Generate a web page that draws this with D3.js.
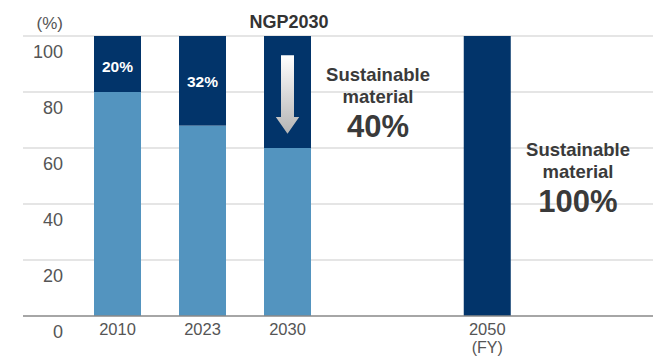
<!DOCTYPE html>
<html><head><meta charset="utf-8">
<script src="https://cdn.jsdelivr.net/npm/d3@7"></script>
<style>body{margin:0;background:#fff}svg{display:block}</style>
</head><body>
<svg id="c" width="653" height="356"></svg>
<script>
const categories = ["2010", "2023", "2030", "2050"];
const conventional = [80, 68, 60, 0];
const sustainable = [20, 32, 40, 100];
const barLabels = ["20%", "32%", "", ""];
const yTicks = [0, 20, 40, 60, 80, 100];
const slots = [0, 1, 2, 4.35];

(function () {
const svg = d3.select("#c");
const font = "'Liberation Sans', Arial, sans-serif";
const y = d3.scaleLinear().domain([0, 100]).range([316, 36]);
const x = d3.scaleLinear().domain([0, 1]).range([117.5, 202.5]);
const bw = 47;
const dark = "#02346a", light = "#5394bf";

// gridlines
svg.append("g").selectAll("line").data(yTicks.filter(d => d > 0)).join("line")
  .attr("x1", 23).attr("x2", 653).attr("y1", d => y(d)).attr("y2", d => y(d))
  .attr("stroke", "#dcdcdc").attr("stroke-width", 1.5);

// y tick labels (below their lines)
svg.append("g").selectAll("text").data(yTicks).join("text")
  .attr("x", 63).attr("y", d => y(d) + 16).attr("dy", "0.35em")
  .attr("text-anchor", "end").attr("font-family", font).attr("font-size", 18)
  .attr("fill", "#555").text(d => d);
svg.append("text").attr("x", 63).attr("y", 23).attr("dy", "0.35em")
  .attr("text-anchor", "end").attr("font-family", font).attr("font-size", 17)
  .attr("fill", "#555").text("(%)");

// bars
const data = categories.map((c, i) => ({c, i, a: conventional[i], b: sustainable[i], lab: barLabels[i]}));
const g = svg.append("g");
g.selectAll("rect.l").data(data).join("rect").attr("class", "l")
  .attr("x", d => x(slots[d.i]) - bw / 2).attr("width", bw)
  .attr("y", d => y(d.a)).attr("height", d => y(0) - y(d.a)).attr("fill", light);
g.selectAll("rect.d").data(data).join("rect").attr("class", "d")
  .attr("x", d => x(slots[d.i]) - bw / 2).attr("width", bw)
  .attr("y", d => y(d.a + d.b)).attr("height", d => y(d.a) - y(d.a + d.b)).attr("fill", dark);

// in-bar labels
g.selectAll("text.bl").data(data.filter(d => d.lab)).join("text").attr("class", "bl")
  .attr("x", d => x(slots[d.i])).attr("y", d => d.i === 0 ? 67 : 82).attr("dy", "0.35em")
  .attr("text-anchor", "middle").attr("font-family", font).attr("font-weight", "bold")
  .attr("font-size", 15.5).attr("fill", "#fff").text(d => d.lab);

// baseline
svg.append("line").attr("x1", 23).attr("x2", 653).attr("y1", y(0)).attr("y2", y(0))
  .attr("stroke", "#888").attr("stroke-width", 1.5);

// x labels
svg.append("g").selectAll("text").data(data).join("text")
  .attr("x", d => x(slots[d.i])).attr("y", 329).attr("dy", "0.35em")
  .attr("text-anchor", "middle").attr("font-family", font).attr("font-size", 16.5)
  .attr("fill", "#555").text(d => d.c);
svg.append("text").attr("x", x(slots[3])).attr("y", 347).attr("dy", "0.35em")
  .attr("text-anchor", "middle").attr("font-family", font).attr("font-size", 16)
  .attr("fill", "#555").text("(FY)");

// arrow
const defs = svg.append("defs");
const gr = defs.append("linearGradient").attr("id", "ag").attr("x1", 0).attr("x2", 0).attr("y1", 0).attr("y2", 1);
gr.append("stop").attr("offset", "0%").attr("stop-color", "#ffffff");
gr.append("stop").attr("offset", "100%").attr("stop-color", "#b4b4b4");
const ax = x(slots[2]);
const aTop = 55.3, headY = 117, tip = 133.7, sw = 6.5, hw = 11.7;
svg.append("path")
  .attr("d", `M${ax - sw},${aTop}H${ax + sw}V${headY}H${ax + hw}L${ax},${tip}L${ax - hw},${headY}H${ax - sw}Z`)
  .attr("fill", "url(#ag)");

// annotations
svg.append("text").attr("x", 289).attr("y", 22).attr("dy", "0.35em").attr("text-anchor", "middle")
  .attr("font-family", font).attr("font-weight", "bold").attr("font-size", 18).attr("fill", "#333").text("NGP2030");

function note(cx, y0, big) {
  const t = svg.append("g").attr("font-family", font).attr("font-weight", "bold").attr("fill", "#3a3a3a").attr("text-anchor", "middle");
  t.append("text").attr("x", cx).attr("y", y0).attr("dy", "0.35em").attr("font-size", 18.5).text("Sustainable");
  t.append("text").attr("x", cx).attr("y", y0 + 21.5).attr("dy", "0.35em").attr("font-size", 18.5).text("material");
  t.append("text").attr("x", cx).attr("y", y0 + 51).attr("dy", "0.35em").attr("font-size", 31).text(big);
}
note(378, 75, "40%");
note(578, 150, "100%");
})();
</script>
</body></html>
